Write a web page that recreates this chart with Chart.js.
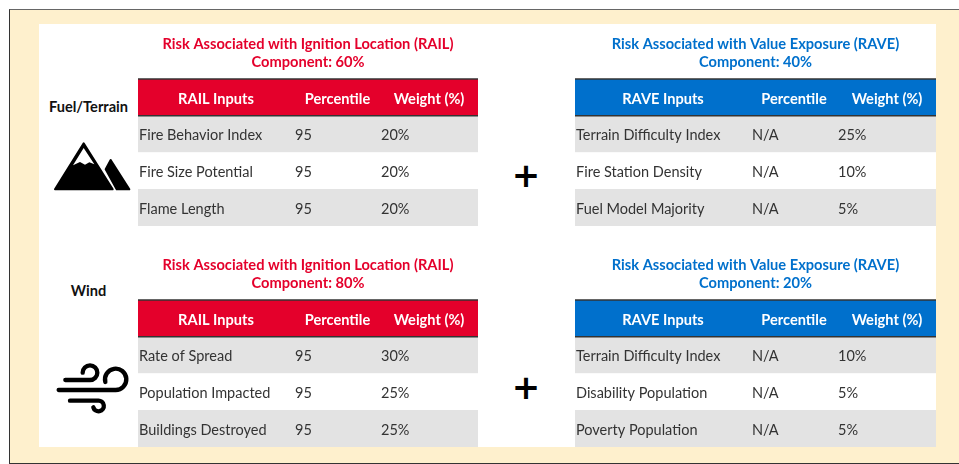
<!DOCTYPE html>
<html>
<head>
<meta charset="utf-8">
<title>RAIL and RAVE inputs</title>
<script src="https://cdn.jsdelivr.net/npm/chart.js@4"></script>
<style>
	body { margin: 0; background: #fff; font-family: Lato, sans-serif; }
	#page { position: relative; width: 959px; height: 464px; overflow: hidden; }
	#frame { position: absolute; left: 9px; top: 9px; width: 960px; height: 453px; background: #fef0cd; border: 1px solid #333; border-top-color: #666; }
	#panel { position: absolute; left: 39px; top: 24px; width: 897px; height: 423px; background: #fff; }
	.box { position: absolute; }
	.side { position: absolute; width: 100px; left: 38.5px; text-align: center; font-weight: 700; font-size: 14.6px; color: #111; line-height: 18px; }
	.plus { position: absolute; left: 496px; width: 60px; text-align: center; font: 700 34px/40px "DejaVu Sans", sans-serif; color: #000; }
	svg { position: absolute; left: 40px; width: 100px; height: 70px; }
</style>
</head>
<body>
<div id="page">
	<div id="frame"></div>
	<div id="panel"></div>
	<div class="side" style="top: 98px">Fuel/Terrain</div>
	<div class="side" style="top: 282px">Wind</div>
	<div class="plus" style="top: 155px">+</div>
	<div class="plus" style="top: 367px">+</div>

	<svg style="top: 130px" viewBox="0 0 300 210">
		<path d="M131 40 L218 178 L45 178 Z" fill="#000" stroke="#000" stroke-width="6" stroke-linejoin="round"/>
		<path d="M131 54 L163 103 L148 97 L135 104 L120 96 L99 106 Z" fill="#fff"/>
		<path d="M212 90 L268 178 L230 178 L197 118 Z" fill="#000" stroke="#000" stroke-width="6" stroke-linejoin="round"/>
	</svg>
	<svg style="top: 350px" viewBox="0 0 300 210" fill="none" stroke="#000" stroke-width="13" stroke-linecap="round">
		<path d="M76 90 H150 A22 22 0 1 0 128 68"/>
		<path d="M56 120 H226 A32 32 0 1 0 196 96"/>
		<path d="M90 152 H174 A16 16 0 1 1 160 172"/>
	</svg>

	<div class="box" style="left: 138px; top: 33px; width: 340px; height: 193px"><canvas id="fuelRail"></canvas></div>
	<div class="box" style="left: 575px; top: 33px; width: 361px; height: 193px"><canvas id="fuelRave"></canvas></div>
	<div class="box" style="left: 138px; top: 254px; width: 340px; height: 193px"><canvas id="windRail"></canvas></div>
	<div class="box" style="left: 575px; top: 254px; width: 361px; height: 193px"><canvas id="windRave"></canvas></div>
</div>

<script>
const railHeader = ["RAIL Inputs", "Percentile", "Weight (%)"];
const raveHeader = ["RAVE Inputs", "Percentile", "Weight (%)"];

const fuelRailInputs = ["Fire Behavior Index", "Fire Size Potential", "Flame Length"];
const fuelRailPercentile = ["95", "95", "95"];
const fuelRailWeight = ["20%", "20%", "20%"];

const fuelRaveInputs = ["Terrain Difficulty Index", "Fire Station Density", "Fuel Model Majority"];
const fuelRavePercentile = ["N/A", "N/A", "N/A"];
const fuelRaveWeight = ["25%", "10%", "5%"];

const windRailInputs = ["Rate of Spread", "Population Impacted", "Buildings Destroyed"];
const windRailPercentile = ["95", "95", "95"];
const windRailWeight = ["30%", "25%", "25%"];

const windRaveInputs = ["Terrain Difficulty Index", "Disability Population", "Poverty Population"];
const windRavePercentile = ["N/A", "N/A", "N/A"];
const windRaveWeight = ["10%", "5%", "5%"];

const red = "#e4002b";
const blue = "#0070cc";
const grey = "#e3e3e3";

// draws the cell texts and header rules from the chart's own scales
const tablePlugin = {
	id: "tableText",
	afterDatasetsDraw(chart, args, opts) {
		const ctx = chart.ctx;
		const x = chart.scales.x;
		const y = chart.scales.y;
		const area = chart.chartArea;
		const band = y.getPixelForValue(1) - y.getPixelForValue(0);

		ctx.save();
		ctx.strokeStyle = "#333";
		ctx.lineWidth = 1.5;
		[area.top, y.getPixelForValue(0) + band / 2].forEach((py) => {
			ctx.beginPath();
			ctx.moveTo(area.left, py);
			ctx.lineTo(area.right, py);
			ctx.stroke();
		});

		ctx.textBaseline = "middle";
		ctx.font = "700 14.6px Lato, sans-serif";
		ctx.fillStyle = "#fff";
		ctx.textAlign = "center";
		opts.header.forEach((text, i) => {
			ctx.fillText(text, x.getPixelForValue(opts.headerX[i]), y.getPixelForValue(0) + 2);
		});

		ctx.font = "14.5px Lato, sans-serif";
		ctx.fillStyle = "#333";
		ctx.textAlign = "left";
		opts.rows.forEach((col, c) => {
			col.forEach((text, r) => {
				ctx.fillText(text, x.getPixelForValue(opts.cellX[c]), y.getPixelForValue(r + 1) + 1.5);
			});
		});
		ctx.restore();
	},
};

function makeTable(id, titleLines, color, header, headerX, cellX, inputs, percentile, weight) {
	const width = document.getElementById(id).parentNode.clientWidth;

	new Chart(document.getElementById(id), {
		type: "bar",
		data: {
			labels: ["header"].concat(inputs),
			datasets: [
				{
					data: [width, width, width, width],
					backgroundColor: [color, grey, "#fff", grey],
					barPercentage: 1,
					categoryPercentage: 1,
				},
			],
		},
		options: {
			indexAxis: "y",
			responsive: true,
			maintainAspectRatio: false,
			animation: false,
			layout: { padding: 0 },
			scales: {
				x: { display: false, min: 0, max: width },
				y: { display: false },
			},
			plugins: {
				legend: { display: false },
				tooltip: { enabled: false },
				title: {
					display: true,
					text: titleLines,
					color: color,
					font: { family: "Lato, sans-serif", size: 14.65, weight: "700", lineHeight: 1.23 },
					padding: { top: 2, bottom: 8 },
				},
				tableText: {
					header: header,
					headerX: headerX,
					cellX: cellX,
					rows: [inputs, percentile, weight],
				},
			},
		},
		plugins: [tablePlugin],
	});
}

const railHeaderX = [78, 199.5, 291];
const raveHeaderX = [88, 219, 312];
const railCellX = [1, 157, 243];
const raveCellX = [1, 177, 263];

makeTable("fuelRail", ["Risk Associated with Ignition Location (RAIL)", "Component: 60%"], red, railHeader, railHeaderX, railCellX, fuelRailInputs, fuelRailPercentile, fuelRailWeight);
makeTable("fuelRave", ["Risk Associated with Value Exposure (RAVE)", "Component: 40%"], blue, raveHeader, raveHeaderX, raveCellX, fuelRaveInputs, fuelRavePercentile, fuelRaveWeight);
makeTable("windRail", ["Risk Associated with Ignition Location (RAIL)", "Component: 80%"], red, railHeader, railHeaderX, railCellX, windRailInputs, windRailPercentile, windRailWeight);
makeTable("windRave", ["Risk Associated with Value Exposure (RAVE)", "Component: 20%"], blue, raveHeader, raveHeaderX, raveCellX, windRaveInputs, windRavePercentile, windRaveWeight);
</script>
</body>
</html>
